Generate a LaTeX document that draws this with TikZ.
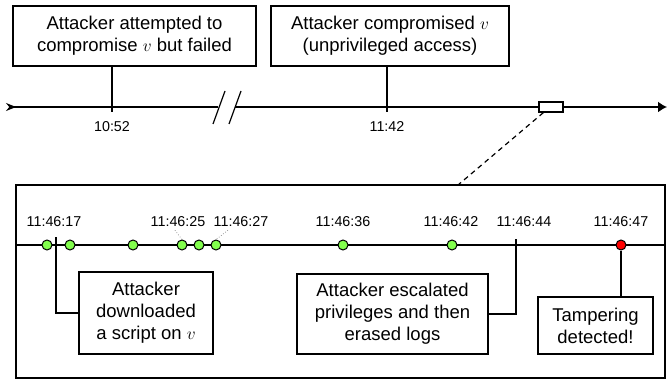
\documentclass[tikz,border=0pt]{standalone}
\usepackage{fontspec}
\setmainfont{Liberation Sans}
\usetikzlibrary{arrows.meta}
\begin{document}
\begin{tikzpicture}[x=1pt,y=-1pt,
  evbox/.style={draw,line width=1.2pt,align=center,inner sep=0pt,font=\fontsize{18.5}{22}\selectfont},
  tlabel/.style={font=\fontsize{14.3}{16}\selectfont,inner sep=0pt},
  gdot/.style={circle,draw,line width=1pt,fill=green!60!lime!70!white,minimum size=10pt,inner sep=0pt},
  rdot/.style={circle,draw,line width=1pt,fill=red,minimum size=10pt,inner sep=0pt},
  conn/.style={line width=1.2pt},
  tline/.style={line width=1.5pt}]
\useasboundingbox (0,0) rectangle (668,379);
% top boxes
\node[evbox,minimum width=243pt,minimum height=60pt] (b1) at (134.5,36) {Attacker attempted to\\compromise $v$ but failed};
\node[evbox,minimum width=238pt,minimum height=60pt] (b2) at (390,36) {Attacker compromised $v$\\(unprivileged access)};
% main timeline
\coordinate (s) at (6,107);
\coordinate (g1) at (218,107);
\coordinate (g2) at (235,107);
\coordinate (e) at (667,107);
\draw[tline,{Stealth[reversed,length=10pt,width=8pt]}-] (s) -- (g1);
\draw[tline,-{Latex[length=9pt,width=11pt]}] (g2) -- (e);
\coordinate (sl1a) at (213,124); \coordinate (sl1b) at (225,91);
\coordinate (sl2a) at (229,124); \coordinate (sl2b) at (241,91);
\draw[conn] (sl1a) -- (sl1b);
\draw[conn] (sl2a) -- (sl2b);
\coordinate (t1) at (112,112);
\coordinate (t2) at (387,112);
\draw[conn] (t1 |- b1.south) -- (t1);
\draw[conn] (t2 |- b2.south) -- (t2);
\node[tlabel] (l1) at (112,127) {10:52};
\node[tlabel] (l2) at (387,127) {11:42};
\node[draw,line width=1.2pt,fill=white,minimum width=24pt,minimum height=10pt,inner sep=0pt] (zm) at (551,107) {};
% zoom box
\node[draw,line width=1.2pt,minimum width=649pt,minimum height=193pt,inner sep=0pt] (big) at (340.5,281.5) {};
\coordinate (zt) at (458,185);
\draw[conn,dash pattern=on 5pt off 4pt] (zm.south west) ++(5,0) -- (zt);
\coordinate (il) at (16,245);
\coordinate (ir) at (665,245);
\draw[tline] (il) -- (ir);
% ticks
\coordinate (k1) at (56,237);
\coordinate (k2) at (516,239);
% event boxes
\node[evbox,minimum width=134pt,minimum height=82pt] (A) at (146,313) {Attacker\\downloaded\\a script on $v$};
\node[evbox,minimum width=191pt,minimum height=80pt] (B) at (392.5,314) {Attacker escalated\\privileges and then\\erased logs};
\node[evbox,minimum width=115pt,minimum height=57pt] (C) at (595.5,325.5) {Tampering\\detected!};
\draw[conn] (k1) |- (A.west);
\draw[conn] (k2) |- (B.east);
% dots
\node[gdot] (d1) at (47,245) {};
\node[gdot] (d2) at (70,245) {};
\node[gdot] (d3) at (133,245) {};
\node[gdot] (d4) at (182,245) {};
\node[gdot] (d5) at (199,245) {};
\node[gdot] (d6) at (216,245) {};
\node[gdot] (d7) at (343,245) {};
\node[gdot] (d8) at (452,245) {};
\node[rdot] (d9) at (621,245) {};
\draw[conn] (d9.south) -- (d9 |- C.north);
% labels
\node[tlabel] (m1) at (54,222) {11:46:17};
\node[tlabel] (m2) at (178,222) {11:46:25};
\node[tlabel] (m3) at (241,222) {11:46:27};
\node[tlabel] (m4) at (343,222) {11:46:36};
\node[tlabel] (m5) at (451,222) {11:46:42};
\node[tlabel] (m6) at (524,222) {11:46:44};
\node[tlabel] (m7) at (621,222) {11:46:47};
\draw[gray,dotted,line width=0.7pt] ([yshift=-3pt]m2.south) ++(-3,0) -- (d4.north);
\draw[gray,dotted,line width=0.7pt] ([yshift=-3pt]m3.south) ++(-13,0) -- (d6.north);
\end{tikzpicture}
\end{document}
